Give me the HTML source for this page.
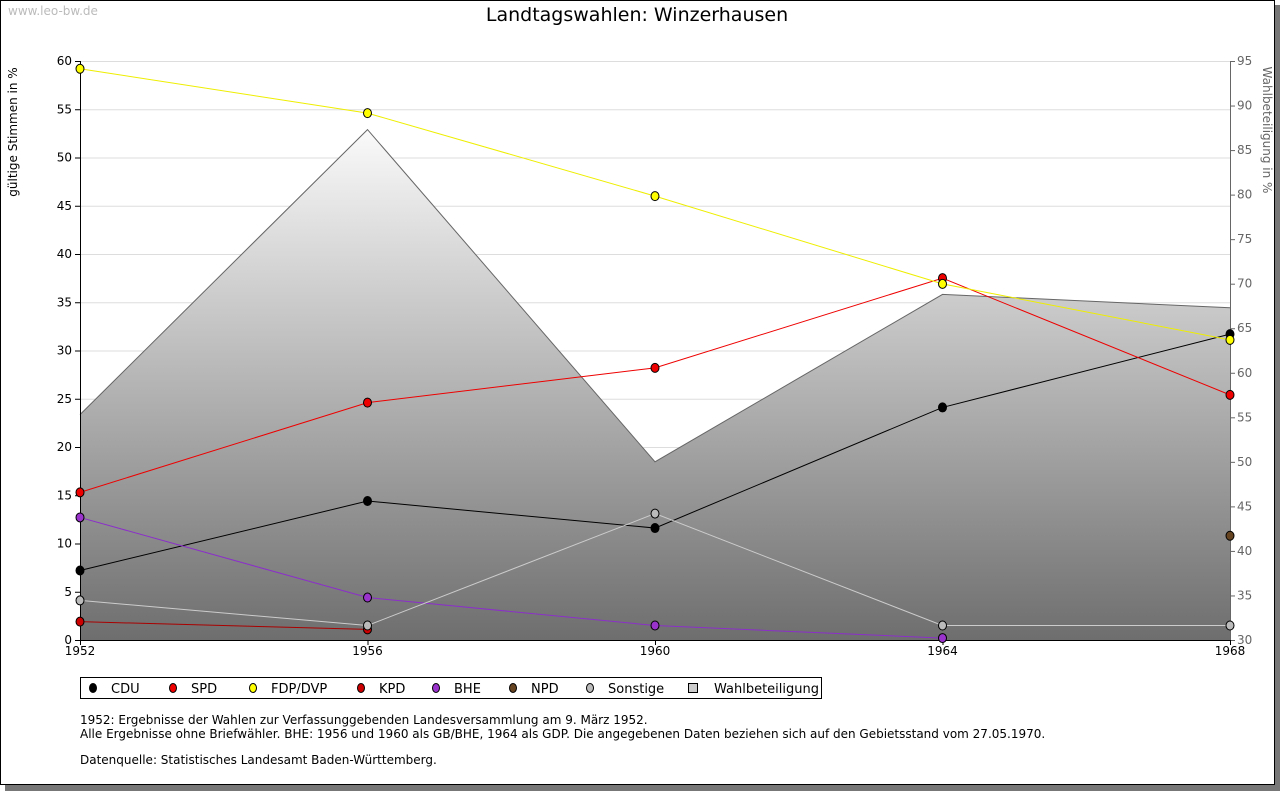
<!DOCTYPE html>
<html><head><meta charset="utf-8"><style>
html,body{margin:0;padding:0;background:#fff;width:1280px;height:791px;overflow:hidden}
svg{display:block;font-family:"DejaVu Sans","Liberation Sans",sans-serif}
</style></head><body>
<svg id="c" width="1280" height="791">
<defs><linearGradient id="g" x1="0" y1="0" x2="0" y2="1"><stop offset="0" stop-color="#fafafa"/><stop offset="1" stop-color="#6e6e6e"/></linearGradient></defs>
<rect x="5" y="5" width="1275" height="786" fill="#777"/>
<rect x="0.5" y="0.5" width="1274" height="784" fill="#fff" stroke="#000"/>
<text x="8" y="15" font-size="12" fill="#bbb">www.leo-bw.de</text>
<text x="637" y="21" font-size="19" text-anchor="middle">Landtagswahlen: Winzerhausen</text>
<text transform="translate(17,132) rotate(-90)" x="0" y="0" font-size="12" text-anchor="middle">gültige Stimmen in %</text>
<text transform="translate(1263,130) rotate(90)" font-size="12" fill="#666" text-anchor="middle">Wahlbeteiligung in %</text>
<g id="grid"></g><g id="area"></g><g id="axes"></g><g id="series"></g>
<rect x="80.5" y="677.5" width="741" height="21" fill="#fff" stroke="#000"/>
<g id="legend"></g>
<text font-size="12"><tspan x="80" y="724">1952: Ergebnisse der Wahlen zur Verfassunggebenden Landesversammlung am 9. März 1952.</tspan><tspan x="80" y="738">Alle Ergebnisse ohne Briefwähler. BHE: 1956 und 1960 als GB/BHE, 1964 als GDP. Die angegebenen Daten beziehen sich auf den Gebietsstand vom 27.05.1970.</tspan><tspan x="80" y="764">Datenquelle: Statistisches Landesamt Baden-Württemberg.</tspan></text>
</svg>
<script>
const years=[1952,1956,1960,1964,1968];
const cdu=[7.2,14.4,11.6,24.1,31.7];
const spd=[15.3,24.6,28.2,37.5,25.4];
const fdp=[59.2,54.6,46.0,36.9,31.1];
const kpd=[1.9,1.1,null,null,null];
const bhe=[12.7,4.4,1.5,0.2,null];
const npd=[null,null,null,null,10.8];
const sonst=[4.1,1.5,13.1,1.5,1.5];
const turnout=[55.3,87.3,50.0,68.8,67.3];
const yTicks=[0,5,10,15,20,25,30,35,40,45,50,55,60];
const y2Ticks=[30,35,40,45,50,55,60,65,70,75,80,85,90,95];
const X0=80,X1=1230,YT=61,YB=640;
const x=i=>X0+(years[i]-years[0])/(years[years.length-1]-years[0])*(X1-X0);
const y=v=>YB-v/60*(YB-YT);
const y2=v=>YB-(v-30)/65*(YB-YT);
const NS='http://www.w3.org/2000/svg';
function mk(t,a,p){const e=document.createElementNS(NS,t);for(const k in a)e.setAttribute(k,a[k]);document.getElementById(p).appendChild(e);return e;}
yTicks.forEach(v=>{
 const l=mk('line',{x1:X0,x2:X1,y1:y(v)+.5,y2:y(v)+.5,stroke:'#ddd'},'grid');
 
 
 const t=mk('text',{x:X0-8,y:y(v)+4,'font-size':12,'text-anchor':'end'},'axes');t.textContent=v;
 
 
 mk('line',{x1:X0-5,x2:X0,y1:y(v)+.5,y2:y(v)+.5,stroke:'#000'},'axes');
});
y2Ticks.forEach(v=>{
 const t=mk('text',{x:X1+7,y:y2(v)+4,'font-size':12,fill:'#666'},'axes');t.textContent=v;
 
 
 mk('line',{x1:X1,x2:X1+5,y1:y2(v)+.5,y2:y2(v)+.5,stroke:'#666'},'axes');
});
years.forEach((yr,i)=>{
 const t=mk('text',{x:x(i),y:655,'font-size':12,'text-anchor':'middle'},'axes');t.textContent=yr;
 
 
 mk('line',{x1:x(i)+.5,x2:x(i)+.5,y1:YB,y2:YB+5,stroke:'#000'},'axes');
});
mk('line',{x1:X0+.5,x2:X0+.5,y1:YT,y2:YB,stroke:'#000'},'axes');
mk('line',{x1:X1+.5,x2:X1+.5,y1:YT,y2:YB,stroke:'#666'},'axes');
mk('line',{x1:X0,x2:X1,y1:YB+.5,y2:YB+.5,stroke:'#000'},'axes');
let d='M'+x(0)+','+YB;turnout.forEach((v,i)=>d+=' L'+x(i)+','+y2(v));d+=' L'+x(4)+','+YB+'Z';
const ar=mk('path',{d:d,fill:'url(#g)'},'area');


let d2='';turnout.forEach((v,i)=>d2+=(i?' L':'M')+x(i)+','+y2(v));
mk('path',{d:d2,fill:'none',stroke:'#666'},'area');
const series=[['cdu',cdu,'#000','#000'],['spd',spd,'#e00','#e00'],['fdp',fdp,'#ff0','#ee0'],['kpd',kpd,'#c00','#a00'],['bhe',bhe,'#93c','#8b2fc9'],['npd',npd,'#642','#5a3a28'],['sonstige',sonst,'#bbb','#ccc']];
series.forEach(([n,vals,fill,line])=>{
 let p='';vals.forEach((v,i)=>{if(v!=null)p+=(p?' L':'M')+x(i)+','+y(v);});
 const pl=mk('path',{d:p,fill:'none',stroke:line,'stroke-width':1},'series');
 
 
 vals.forEach((v,i)=>{if(v==null)return;
  const c=mk('ellipse',{cx:x(i),cy:y(v),rx:4,ry:4.5,fill:fill,stroke:'#000'},'series');
  
  
 });
});
const leg=[['CDU','#000',90],['SPD','#e00',170],['FDP/DVP','#ff0',250],['KPD','#c00',358],['BHE','#93c',433],['NPD','#642',510],['Sonstige','#bbb',587],['Wahlbeteiligung','#ccc',693]];
leg.forEach(([t,c,lx],i)=>{
 if(i==7){mk('rect',{x:lx-4.5,y:683.5,width:9,height:9,fill:'#ccc',stroke:'#000'},'legend');}
 else mk('ellipse',{cx:lx+3,cy:688,rx:3.5,ry:4.5,fill:c,stroke:'#000'},'legend');
 const tt=mk('text',{x:lx+21,y:693,'font-size':13},'legend');tt.textContent=t;
 
 
});
</script>
</body></html>
